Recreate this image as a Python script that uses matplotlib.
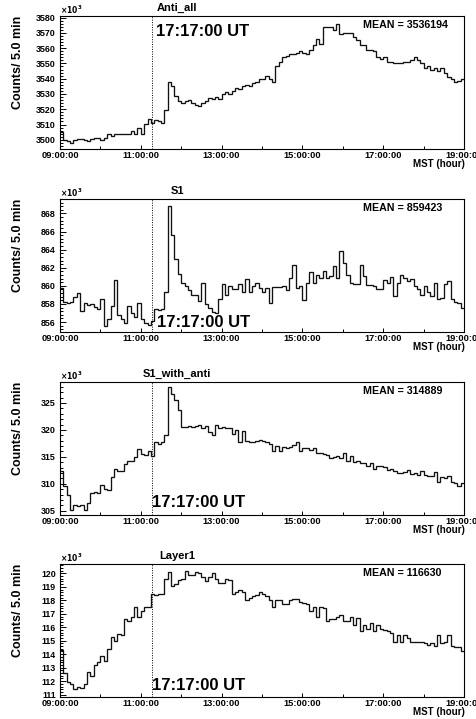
import numpy as np
import matplotlib
matplotlib.use("Agg")
import matplotlib.pyplot as plt
from matplotlib.ticker import MultipleLocator, AutoMinorLocator, FuncFormatter

plt.rcParams['font.family'] = ['Liberation Sans', 'DejaVu Sans']
plt.rcParams['font.weight'] = 'bold'

# counts per 5 min bin (x10^3), 09:00 -> 19:00 MST, 120 bins
anti_all = [3505, 3500, 3499, 3498, 3500, 3500.5, 3500.5, 3500, 3499, 3500.5,
            3501, 3501, 3500, 3501.5, 3504, 3502.5, 3503.5, 3503.5, 3504, 3504,
            3503.5, 3505.5, 3504, 3508, 3503.5, 3510.5, 3513.5, 3511, 3513, 3512.5,
            3511, 3519.5, 3538, 3535, 3528.5, 3525.5, 3524, 3525.5, 3526, 3524,
            3523, 3522, 3524, 3525.5, 3527.5, 3526.5, 3528, 3527, 3530, 3531,
            3530, 3532, 3534, 3533, 3535, 3536, 3535, 3537, 3538, 3540,
            3540, 3542, 3540, 3538, 3548, 3551, 3554, 3555, 3556, 3556,
            3557, 3558, 3557, 3556, 3559, 3562, 3566, 3563, 3574, 3574,
            3574, 3572, 3576, 3569, 3570, 3570, 3570, 3567, 3565, 3562,
            3562, 3559, 3559, 3558, 3554, 3553, 3554, 3551, 3551, 3550,
            3550, 3550, 3551, 3551, 3552, 3554, 3552, 3550, 3547, 3548,
            3546, 3547, 3545, 3547, 3544, 3541, 3540, 3538, 3538.5, 3540]

s1 = [859.8, 858.2, 858.1, 858.2, 858.8, 859.2, 857.2, 858.1, 857.9, 858.0,
      857.7, 857.4, 858.5, 855.6, 856.3, 857.8, 860.6, 856.8, 856.3, 855.9,
      857.8, 857.0, 856.6, 858.1, 856.3, 855.9, 855.7, 856.1, 857.4, 857.3,
      857.4, 859.3, 868.8, 865.6, 863.0, 861.3, 860.3, 860.0, 859.5, 859.0,
      859.0, 858.3, 860.3, 858.0, 857.6, 857.1, 857.0, 858.6, 860.2, 859.0,
      860.0, 859.6, 859.6, 860.2, 859.3, 860.8, 859.3, 860.0, 860.3, 859.8,
      859.3, 859.8, 858.1, 859.9, 859.9, 859.9, 860.0, 859.5, 860.9, 862.3,
      859.8, 860.0, 858.4, 860.3, 861.5, 860.3, 861.2, 860.9, 861.6, 860.9,
      861.1, 862.2, 860.9, 863.8, 862.5, 861.2, 860.3, 860.2, 860.2, 862.3,
      861.1, 860.1, 860.1, 860.0, 859.6, 859.7, 860.6, 860.3, 861.0, 858.9,
      860.3, 861.2, 860.9, 860.5, 860.8, 860.0, 859.7, 859.0, 860.0, 859.3,
      858.9, 860.3, 858.5, 858.7, 860.2, 860.5, 858.5, 858.2, 858.1, 857.6]

s1_with_anti = [312.3, 309.5, 307.9, 305.1, 306.0, 305.8, 306.0, 305.1, 306.4, 308.2,
                308.5, 308.2, 309.8, 309.1, 308.8, 311.3, 312.7, 312.3, 312.3, 313.6,
                314.2, 314.2, 315.0, 316.4, 315.5, 315.3, 316.1, 315.2, 317.8, 317.4,
                317.8, 319.1, 327.9, 326.6, 325.6, 323.7, 320.6, 320.6, 320.7, 320.6,
                320.8, 321.0, 320.4, 320.7, 319.6, 319.1, 321.0, 320.4, 320.6, 320.4,
                320.3, 319.3, 319.9, 317.8, 319.8, 318.0, 317.8, 317.8, 318.0, 318.2,
                317.9, 317.7, 317.4, 316.1, 317.1, 316.1, 316.9, 316.7, 316.9, 317.2,
                317.7, 316.0, 316.6, 316.7, 316.3, 316.7, 315.8, 315.7, 315.5, 315.3,
                314.8, 315.0, 315.2, 314.7, 315.7, 314.2, 315.2, 314.1, 314.2, 313.9,
                313.8, 313.3, 313.8, 312.7, 313.3, 313.3, 313.2, 312.6, 312.7, 312.4,
                312.0, 312.0, 312.1, 312.5, 311.9, 312.0, 311.7, 312.3, 311.7, 311.5,
                311.4, 312.1, 310.4, 311.2, 311.0, 311.5, 310.4, 310.2, 309.6, 310.1]

layer1 = [114.3, 112.6, 111.9, 111.8, 111.4, 111.6, 111.5, 111.8, 112.7, 112.4,
          113.2, 113.4, 113.9, 113.5, 114.4, 115.3, 115.0, 115.5, 115.4, 116.6,
          116.5, 116.8, 117.5, 116.8, 117.2, 117.5, 117.5, 118.5, 118.4, 118.5,
          118.5, 119.6, 120.1, 119.1, 119.2, 119.5, 119.6, 120.2, 119.9, 119.9,
          120.1, 120.0, 119.7, 119.4, 119.7, 120.0, 119.6, 119.3, 119.3, 119.6,
          119.5, 118.5, 118.6, 118.8, 118.6, 118.0, 118.2, 118.3, 118.4, 118.6,
          118.5, 118.3, 118.0, 117.5, 118.0, 118.0, 117.7, 117.7, 118.0, 118.1,
          118.1, 117.9, 117.8, 117.7, 117.2, 117.5, 116.8, 117.5, 117.4, 116.5,
          116.6, 116.6, 116.8, 116.9, 116.5, 116.5, 116.8, 116.2, 116.7, 115.7,
          116.2, 115.9, 116.3, 115.7, 116.2, 115.9, 115.8, 115.7, 115.6, 114.9,
          115.4, 114.9, 115.4, 115.2, 114.9, 114.9, 114.9, 114.9, 114.8, 114.7,
          114.8, 114.6, 115.4, 114.8, 114.9, 115.4, 114.6, 114.5, 114.5, 114.2]

titles = ['Anti_all', 'S1', 'S1_with_anti', 'Layer1']
means = ['3536194', '859423', '314889', '116630']
series = [anti_all, s1, s1_with_anti, layer1]
y_major = [10, 2, 5, 1]
y_lims = [(3494, 3581), (854.9, 869.6), (304.2, 328.9), (110.82, 120.7)]
event_hour = 11 + 17 / 60.0      # 17:17:00 UT = 11:17 MST
ut_y = [0.88, 0.07, 0.092, 0.085]
ut_x = [0.238, 0.240, 0.228, 0.228]

edges = 9 + np.arange(121) * 5 / 60.0

W, H = 477, 719
fig = plt.figure(figsize=(W / 100, H / 100), dpi=100)

tops = [16, 199, 382, 564]
ph = 133
for k in range(4):
    ax = fig.add_axes([60 / W, 1 - (tops[k] + ph) / H, 404 / W, ph / H])
    ax.stairs(series[k], edges, baseline=None, color='#111111', lw=0.95)
    ax.set_xlim(9, 19)
    ax.set_ylim(*y_lims[k])
    ax.axvline(event_hour, color='black', ls=(0, (1, 1.5)), lw=0.7)

    ax.xaxis.set_major_locator(MultipleLocator(2, offset=1))
    ax.xaxis.set_minor_locator(MultipleLocator(1))
    ax.xaxis.set_major_formatter(FuncFormatter(lambda v, p: '%02d:00:00' % int(round(v))))
    ax.yaxis.set_major_locator(MultipleLocator(y_major[k]))
    ax.yaxis.set_minor_locator(AutoMinorLocator(5))
    ax.yaxis.set_major_formatter(FuncFormatter(lambda v, p: '%d' % int(round(v))))
    ax.tick_params(which='both', direction='in', top=False, right=False, width=0.7)
    ax.tick_params(axis='y', which='major', length=4.5, labelsize=6.4, pad=3)
    ax.tick_params(axis='y', which='minor', length=2.2)
    ax.tick_params(axis='x', which='major', length=3, labelsize=6.7, pad=1.5)
    ax.tick_params(axis='x', which='minor', length=2)
    for lab in ax.get_xticklabels() + ax.get_yticklabels():
        lab.set_fontweight('bold')
    for s in ax.spines.values():
        s.set_linewidth(0.8)

    ax.set_ylabel('Counts/ 5.0 min', fontsize=9, fontweight='bold', loc='top')
    ax.yaxis.set_label_coords(-0.09, 1.0)
    ax.text(0.29, 1.06, titles[k], transform=ax.transAxes, ha='center', va='center',
            fontsize=8, fontweight='bold')
    ax.text(0.0, 1.045, r'$\times10^{3}$', transform=ax.transAxes, ha='left', va='center',
            fontsize=5.5, fontweight='normal')
    ax.text(0.75, 0.93, 'MEAN = ' + means[k], transform=ax.transAxes, ha='left',
            va='center', fontsize=7.7, fontweight='bold')
    ax.text(1.003, -0.115, 'MST (hour)', transform=ax.transAxes, ha='right', va='center',
            fontsize=7, fontweight='bold')
    ax.text(ut_x[k], ut_y[k], '17:17:00 UT', transform=ax.transAxes, ha='left',
            va='center', fontsize=12, fontweight='bold')

fig.savefig('out.png', dpi=100)
